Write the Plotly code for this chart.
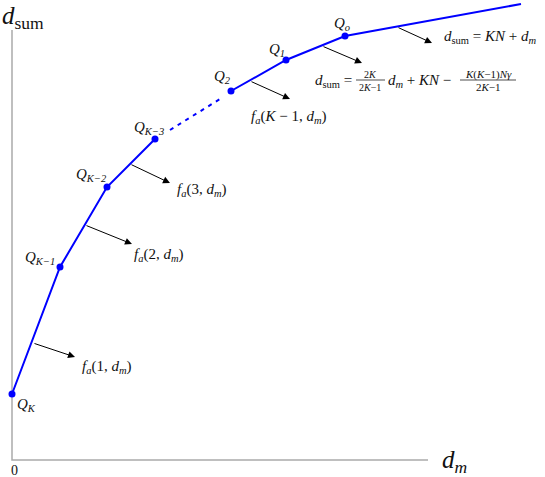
import plotly.graph_objects as go

# corner points of the curve (d_m, d_sum), origin at the axes corner
pt_x = [0, 48, 95, 143, 219, 274, 333]
pt_y = [66, 193, 273, 321, 369, 400, 424]
pt_names = ["Q<sub>K</sub>", "Q<sub>K\u22121</sub>", "Q<sub>K\u22122</sub>", "Q<sub>K\u22123</sub>",
            "Q<sub>2</sub>", "Q<sub>1</sub>", "Q<sub>o</sub>"]
end_x, end_y = 509, 456
dash_x = [158, 208]
dash_y = [330, 361]

# arrows: tail on the curve -> head
arr_tx = [21, 73, 118, 238, 310, 385]
arr_ty = [117, 235, 296, 379, 414, 433]
arr_hx = [63, 120, 158, 278, 350, 420]
arr_hy = [103, 216, 277, 361, 397, 417]
arr_text = ["<i>f<sub>a</sub></i>(1, <i>d<sub>m</sub></i>)",
            "<i>f<sub>a</sub></i>(2, <i>d<sub>m</sub></i>)",
            "<i>f<sub>a</sub></i>(3, <i>d<sub>m</sub></i>)",
            "<i>f<sub>a</sub></i>(<i>K</i> \u2212 1, <i>d<sub>m</sub></i>)",
            "",
            "<i>d</i><sub>sum</sub> = <i>KN</i> + <i>d<sub>m</sub></i>"]
lab_x = [68, 120, 163, 237, 301, 430]
lab_y = [93, 205, 270, 343, 379, 423]

FONT = "Liberation Serif"
fig = go.Figure()

# axes
fig.add_trace(go.Scatter(x=[0, 0, 416], y=[430, 0, 0], mode="lines",
                         line=dict(color="#aaaaaa", width=1.5), hoverinfo="skip"))

# solid segments
fig.add_trace(go.Scatter(x=pt_x[:4], y=pt_y[:4], mode="lines",
                         line=dict(color="#0000ff", width=2), hoverinfo="skip"))
fig.add_trace(go.Scatter(x=pt_x[4:] + [end_x], y=pt_y[4:] + [end_y], mode="lines",
                         line=dict(color="#0000ff", width=2), hoverinfo="skip"))
fig.add_trace(go.Scatter(x=dash_x, y=dash_y, mode="lines",
                         line=dict(color="#0000ff", width=2, dash="4px,5px"), hoverinfo="skip"))
fig.add_trace(go.Scatter(x=pt_x, y=pt_y, mode="markers", cliponaxis=False,
                         marker=dict(color="#0000ff", size=7), hoverinfo="skip"))

# point labels
lab_pos = [(3, 55, "left"), (45, 202, "right"), (97, 285, "right"), (154, 332, "right"),
           (221, 383, "right"), (275, 410, "right"), (340, 436, "right")]
for name, (x, y, anc) in zip(pt_names, lab_pos):
    fig.add_annotation(x=x, y=y, text="<i>" + name + "</i>", showarrow=False,
                       xanchor=anc, yanchor="middle", font=dict(size=15))

# arrows and their labels
for tx, ty, hx, hy, t, lx, ly in zip(arr_tx, arr_ty, arr_hx, arr_hy, arr_text, lab_x, lab_y):
    fig.add_annotation(x=hx, y=hy, ax=tx, ay=ty, axref="x", ayref="y", text="",
                       showarrow=True, arrowhead=2, arrowsize=1.4, arrowwidth=1, arrowcolor="black")
    if t:
        fig.add_annotation(x=lx, y=ly, text=t, showarrow=False, xanchor="left",
                           yanchor="middle", font=dict(size=15))

# the long formula with two fractions
fig.add_annotation(x=301, y=379, text="<i>d</i><sub>sum</sub> =", showarrow=False,
                   xanchor="left", yanchor="middle", font=dict(size=15))
fig.add_annotation(x=358, y=386, text="2<i>K</i>", showarrow=False, font=dict(size=10))
fig.add_annotation(x=358, y=373, text="2<i>K</i>\u22121", showarrow=False, font=dict(size=10))
fig.add_shape(type="line", x0=344, x1=373, y0=380, y1=380, line=dict(color="black", width=0.7))
fig.add_annotation(x=374, y=379, text="<i>d<sub>m</sub></i> + <i>KN</i> \u2212", showarrow=False,
                   xanchor="left", yanchor="middle", font=dict(size=15))
fig.add_annotation(x=476, y=386, text="<i>K</i>(<i>K</i>\u22121)<i>N\u03b3</i>", showarrow=False,
                   font=dict(size=11))
fig.add_annotation(x=476, y=373, text="2<i>K</i>\u22121", showarrow=False, font=dict(size=11))
fig.add_shape(type="line", x0=448, x1=504, y0=380, y1=380, line=dict(color="black", width=0.7))

# axis titles
fig.add_annotation(x=-12, y=443, text="<i>d</i><sub>sum</sub>", showarrow=False,
                   xanchor="left", yanchor="middle", font=dict(size=25))
fig.add_annotation(x=428, y=-1, text="<i>d<sub>m</sub></i>", showarrow=False,
                   xanchor="left", yanchor="middle", font=dict(size=25))
fig.add_annotation(x=2, y=-10, text="0", showarrow=False, font=dict(size=14))

fig.update_layout(width=545, height=477, margin=dict(l=0, r=0, t=0, b=0),
                  paper_bgcolor="white", plot_bgcolor="white", showlegend=False,
                  font=dict(family=FONT, color="#111111"),
                  xaxis=dict(range=[-12, 533], visible=False, fixedrange=True),
                  yaxis=dict(range=[-17, 460], visible=False, fixedrange=True))
fig.write_html("out.html", config={"displayModeBar": False},
               post_script="document.body.style.margin='0';")
